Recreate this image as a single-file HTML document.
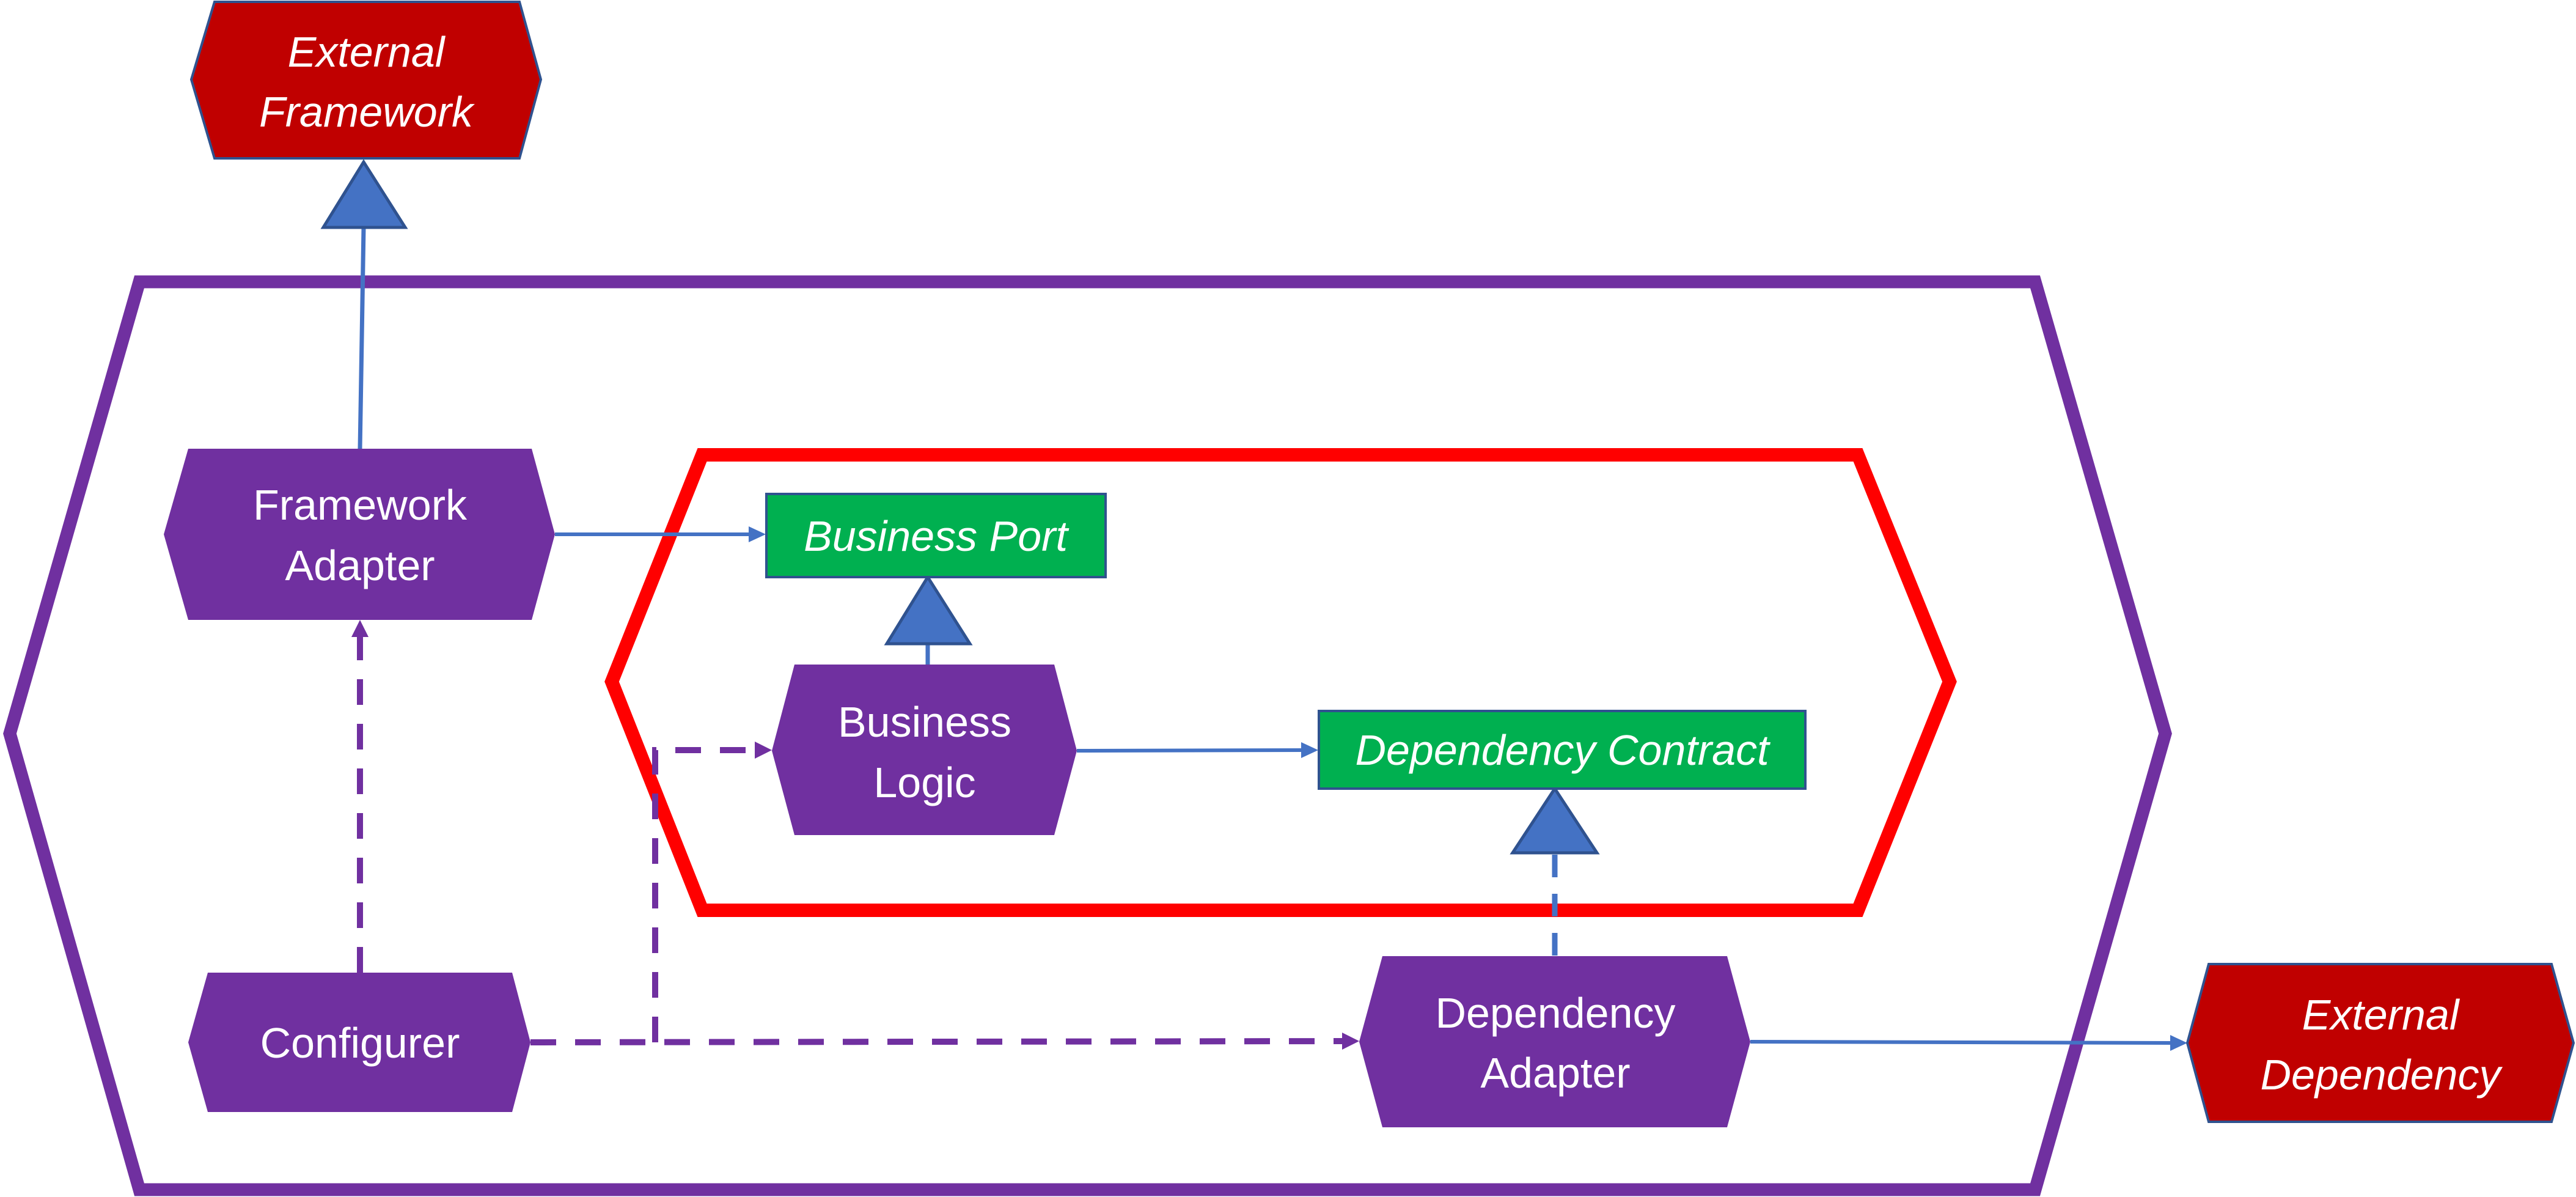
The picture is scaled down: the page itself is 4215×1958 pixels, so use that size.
<!DOCTYPE html>
<html><head><meta charset="utf-8"><style>
html,body{margin:0;padding:0;background:#fff;}
svg{display:block;}
text{font-family:"Liberation Sans",sans-serif;fill:#fff;text-anchor:middle;font-size:70px;}
.it{font-style:italic;}
</style></head><body>
<svg width="4215" height="1958" viewBox="0 0 4215 1958" xmlns="http://www.w3.org/2000/svg">
<!-- outer hexagon -->
<polygon points="228,461 3330,461 3543,1200 3330,1946 228,1946 16,1200" fill="none" stroke="#7030A0" stroke-width="21"/>
<!-- inner red hexagon -->
<polygon points="1149,744 3040,744 3190,1115 3040,1489 1149,1489 1001,1115" fill="none" stroke="#FF0000" stroke-width="22"/>

<!-- connectors -->
<line x1="589" y1="734" x2="595" y2="372" stroke="#4472C4" stroke-width="7"/>
<line x1="908" y1="874" x2="1228" y2="874" stroke="#4472C4" stroke-width="6"/>
<polygon points="1253,874 1225,861 1225,887" fill="#4472C4"/>
<line x1="1518" y1="1087" x2="1518" y2="1053" stroke="#4472C4" stroke-width="7"/>
<line x1="1762" y1="1228" x2="2132" y2="1227" stroke="#4472C4" stroke-width="6"/>
<polygon points="2157,1227 2129,1214 2129,1240" fill="#4472C4"/>
<line x1="2544" y1="1563" x2="2544" y2="1395" stroke="#4472C4" stroke-width="9" stroke-dasharray="37,27"/>
<line x1="2864" y1="1704" x2="3554" y2="1706" stroke="#4472C4" stroke-width="6"/>
<polygon points="3579,1706 3551,1693 3551,1719" fill="#4472C4"/>

<line x1="589" y1="1591" x2="589" y2="1040" stroke="#7030A0" stroke-width="10" stroke-dasharray="42,31"/>
<polygon points="589,1014 575,1042 603,1042" fill="#7030A0"/>
<line x1="868" y1="1705" x2="2198" y2="1703" stroke="#7030A0" stroke-width="10" stroke-dasharray="42,31"/>
<polygon points="2224,1703 2196,1689 2196,1717" fill="#7030A0"/>
<polyline points="1072,1705 1072,1227 1238,1227" fill="none" stroke="#7030A0" stroke-width="10" stroke-dasharray="42,31"/>
<polygon points="1263,1227 1235,1213 1235,1241" fill="#7030A0"/>

<!-- triangles -->
<polygon points="595,265 663,372 529,372" fill="#4472C4" stroke="#2F528F" stroke-width="5"/>
<polygon points="1518,944 1587,1053 1451,1053" fill="#4472C4" stroke="#2F528F" stroke-width="5"/>
<polygon points="2544,1290 2613,1395 2475,1395" fill="#4472C4" stroke="#2F528F" stroke-width="5"/>

<!-- External Framework -->
<polygon points="351,3 850,3 885,130 850,259 351,259 313,130" fill="#C00000" stroke="#2F528F" stroke-width="4"/>
<text class="it" x="599" y="109">External</text>
<text class="it" x="599" y="207">Framework</text>

<!-- Framework Adapter -->
<polygon points="308,734 870,734 908,874 870,1014 308,1014 268,874" fill="#7030A0"/>
<text x="589" y="850">Framework</text>
<text x="589" y="949">Adapter</text>

<!-- Business Port -->
<rect x="1254" y="808" width="555" height="136" fill="#00B050" stroke="#2F528F" stroke-width="4"/>
<text class="it" x="1531" y="901">Business Port</text>

<!-- Business Logic -->
<polygon points="1300,1087 1725,1087 1762,1228 1725,1366 1300,1366 1263,1228" fill="#7030A0"/>
<text x="1513" y="1205">Business</text>
<text x="1513" y="1304">Logic</text>

<!-- Dependency Contract -->
<rect x="2158" y="1163" width="796" height="127" fill="#00B050" stroke="#2F528F" stroke-width="4"/>
<text class="it" x="2556" y="1251">Dependency Contract</text>

<!-- Configurer -->
<polygon points="340,1591 838,1591 868,1705 838,1819 340,1819 308,1705" fill="#7030A0"/>
<text x="589" y="1730">Configurer</text>

<!-- Dependency Adapter -->
<polygon points="2262,1564 2826,1564 2864,1704 2826,1844 2262,1844 2224,1704" fill="#7030A0"/>
<text x="2545" y="1681">Dependency</text>
<text x="2545" y="1779">Adapter</text>

<!-- External Dependency -->
<polygon points="3614,1577 4175,1577 4211,1706 4175,1835 3614,1835 3579,1706" fill="#C00000" stroke="#2F528F" stroke-width="4"/>
<text class="it" x="3895" y="1684">External</text>
<text class="it" x="3895" y="1782">Dependency</text>
</svg>
</body></html>
